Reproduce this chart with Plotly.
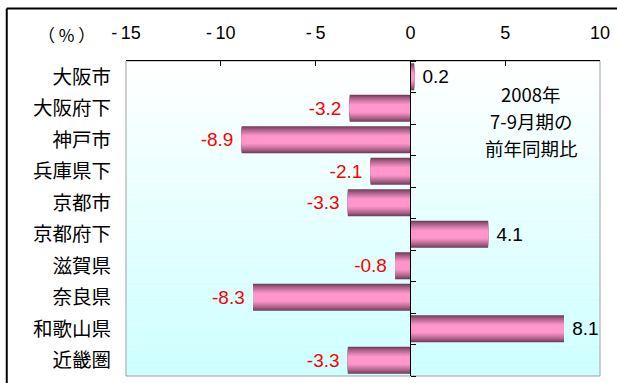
import plotly.graph_objects as go

categories = ["大阪市", "大阪府下", "神戸市", "兵庫県下", "京都市", "京都府下", "滋賀県", "奈良県", "和歌山県", "近畿圏"]
values = [0.2, -3.2, -8.9, -2.1, -3.3, 4.1, -0.8, -8.3, 8.1, -3.3]
tick_vals = [-15, -10, -5, 0, 5, 10]
tick_text = ["-\u200915", "-\u200910", "-\u20095", "0", "5", "10"]
note_lines = ["2008年", "7-9月期の", "前年同期比"]
unit_label = "（ % ）"

W, H = 617, 383
ML, MR, MT, MB = 126, 14, 61, 7
PW, PH = W - ML - MR, H - MT - MB

NUM_FONT = "Liberation Sans, Arial, sans-serif"
JP_FONT = "Noto Sans CJK JP, sans-serif"


def mix(c1, c2, t):
    return "rgb(%d,%d,%d)" % tuple(round(a + (b - a) * t) for a, b in zip(c1, c2))


dark = (112, 60, 90)
pink = (255, 150, 204)

fig = go.Figure()

N = 12
bar_w = 0.86
for k in range(N):
    t = k / (N - 1)
    f = min(1.0, t / 0.75) ** 0.8
    kw = {}
    if k == 0:
        kw = dict(
            text=[(" %.1f" % v) if v >= 0 else ("%.1f " % v) for v in values],
            textposition="outside",
            textfont=dict(family=NUM_FONT, size=19,
                          color=["black" if v >= 0 else "red" for v in values]),
            cliponaxis=False,
            constraintext="none",
        )
    fig.add_trace(go.Bar(
        x=values, y=categories, orientation="h",
        width=bar_w * (1 - k / N),
        marker=dict(color=mix(dark, pink, f), line=dict(width=0)),
        showlegend=False, hoverinfo="skip", **kw))

# helper trace for the zero-line axis
fig.add_trace(go.Scatter(x=[0], y=[0], yaxis="y2", mode="markers",
                         marker=dict(opacity=0), showlegend=False, hoverinfo="skip"))

shapes = []
NB = 60
top_c = (255, 255, 255)
bot_c = (204, 255, 255)
for k in range(NB):
    y0 = k / NB
    y1 = (k + 1) / NB
    t = 1 - (y0 + y1) / 2
    shapes.append(dict(type="rect", xref="paper", yref="paper", x0=0, x1=1, y0=y0, y1=y1,
                       fillcolor=mix(top_c, bot_c, t),
                       line=dict(width=0), layer="between"))
shapes.append(dict(type="rect", xref="paper", yref="paper", x0=0, x1=1, y0=0, y1=1,
                   line=dict(color="#a0a0a0", width=1), layer="between"))
# outer frame (top and left edges)
fx = (6 - ML) / PW
fy = 1 + (MT - 8.5) / PH
shapes.append(dict(type="line", xref="paper", yref="paper", x0=fx, x1=2, y0=fy, y1=fy,
                   line=dict(color="black", width=2)))
shapes.append(dict(type="line", xref="paper", yref="paper", x0=fx, x1=fx, y0=fy, y1=-1,
                   line=dict(color="black", width=2)))

annotations = [dict(xref="paper", yref="paper", x=(66 - ML) / PW, y=1 + (MT - 34) / PH,
                    text=unit_label, showarrow=False, xanchor="center", yanchor="middle",
                    font=dict(family=JP_FONT, size=17, color="black"))]
for i, line in enumerate(note_lines):
    ypix = 94 + 27 * i
    annotations.append(dict(xref="paper", yref="paper", x=(534 - ML) / PW, y=1 - (ypix - MT) / PH,
                            text=line, showarrow=False, xanchor="center", yanchor="middle",
                            font=dict(family=JP_FONT, size=18.5, color="black")))

fig.update_layout(
    width=W, height=H,
    margin=dict(l=ML, r=MR, t=MT, b=MB, pad=0),
    paper_bgcolor="white", plot_bgcolor="rgba(0,0,0,0)",
    barmode="overlay",
    shapes=shapes, annotations=annotations,
    xaxis=dict(range=[-15, 10], side="top", tickvals=tick_vals, ticktext=tick_text,
               ticks="inside", ticklen=5, tickcolor="black", showline=True,
               linecolor="black", linewidth=1, showgrid=False, zeroline=False,
               ticklabelstandoff=14,
               tickfont=dict(family=NUM_FONT, size=18, color="black")),
    yaxis=dict(type="category", categoryarray=categories, range=[9.5, -0.5],
               showgrid=False, zeroline=False, showline=False, ticks="",
               ticklabelstandoff=14,
               tickfont=dict(family=JP_FONT, size=19.5, color="black")),
    yaxis2=dict(overlaying="y", anchor="free", position=0.6, side="right",
                range=[9.5, -0.5], tickvals=[i - 0.5 for i in range(11)],
                ticks="outside", ticklen=5, tickcolor="black", showticklabels=False,
                showline=True, linecolor="black", linewidth=1, showgrid=False,
                zeroline=False),
)

fig.write_html("out.html")
